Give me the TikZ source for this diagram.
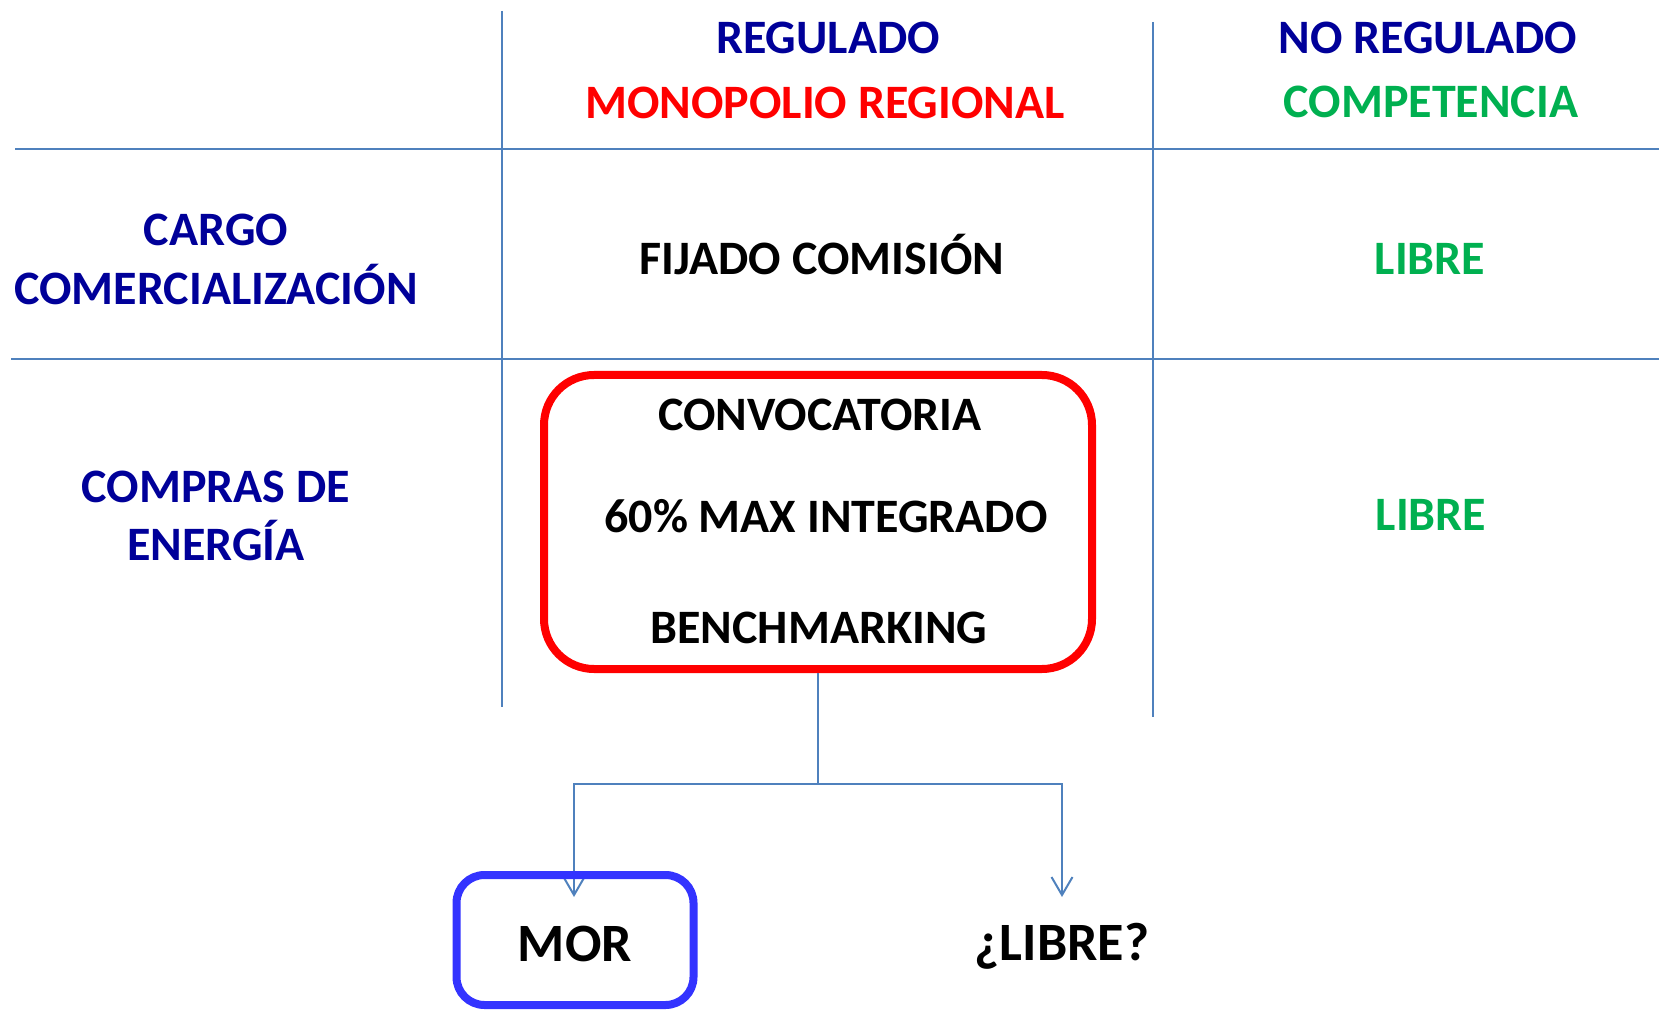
\documentclass[tikz,border=0pt]{standalone}
\usepackage{fontspec}
\setmainfont{Carlito}
\usetikzlibrary{positioning,arrows.meta}
\definecolor{hdrblue}{HTML}{000099}
\definecolor{hdrred}{HTML}{FF0000}
\definecolor{hdrgreen}{HTML}{00B050}
\definecolor{rulecol}{HTML}{4F81BD}
\definecolor{morblue}{HTML}{3333FF}

\begin{document}
\begin{tikzpicture}[
    x=0.5pt, y=-0.5pt,
    txt/.style ={
        font=\fontsize{24}{28}\selectfont\bfseries,
        inner sep=0pt,
        text height=15.2pt,
        text depth=0pt,
    },
    bigtxt/.style ={
        txt,
        font=\fontsize{27}{31}\selectfont\bfseries,
        text height=17.1pt,
    },
    gridline/.style ={draw=rulecol, line width=1pt},
    conn/.style ={draw=rulecol, line width=1pt, -{Straight Barb[length=9pt,width=10.5pt]}},
    redbox/.style ={
        rectangle,
        draw=hdrred,
        line width=4pt,
        rounded corners=25pt,
        minimum width=274pt,
        minimum height=147pt,
    },
    bluebox/.style ={
        rectangle,
        draw=morblue,
        line width=4pt,
        rounded corners=14pt,
        minimum width=118.5pt,
        minimum height=65pt,
        text height=21.1pt,
    }
    ]
    \useasboundingbox (0,0) rectangle (1659,1010);

    % table rules
    \draw[gridline] (502,11) -- (502,707);
    \draw[gridline] (1153,22) -- (1153,717);
    \draw[gridline] (15,149) -- (1659,149);
    \draw[gridline] (11,359) -- (1659,359);

    % headers
    \node[txt, text=hdrblue] (regulado) at (828,38) {REGULADO};
    \node[txt, text=hdrred] (monopolio) at (825,103) {MONOPOLIO REGIONAL};
    \node[txt, text=hdrblue] (noregulado) at (1428,38) {NO REGULADO};
    \node[txt, text=hdrgreen] (competencia) at (1431,102) {COMPETENCIA};

    % row: cargo
    \node[txt, text=hdrblue] (cargo) at (216,230) {CARGO};
    \node[txt, text=hdrblue] (comerc) at (216,289) {COMERCIALIZACIÓN};
    \node[txt] (fijado) at (822,259) {FIJADO COMISIÓN};
    \node[txt, text=hdrgreen] (librecargo) at (1430,259) {LIBRE};

    % row: compras
    \node[txt, text=hdrblue] (compras) at (216,487) {COMPRAS DE};
    \node[txt, text=hdrblue] (energia) at (216,545) {ENERGÍA};
    \node[redbox] (ofertas) at (818,522) {};
    \node[txt] (convoc) at (820,415) {CONVOCATORIA};
    \node[txt] (integrado) at (826,517) {60\% MAX INTEGRADO};
    \node[txt] (bench) at (819,628) {BENCHMARKING};
    \node[txt, text=hdrgreen] (libreenergia) at (1431,515) {LIBRE};

    % branches
    \coordinate (split) at (818,784);
    \coordinate (mortip) at (574,897);
    \coordinate (libretip) at (1062,897);
    \draw[gridline] (ofertas.south) -- (split);
    \draw[conn] (split) -| (mortip);
    \draw[conn] (split) -| (libretip);

    \node[bigtxt, bluebox] (mor) at (575,940) {MOR};
    \node[bigtxt] (librefut) at (1062,943) {¿LIBRE?};
\end{tikzpicture}
\end{document}
